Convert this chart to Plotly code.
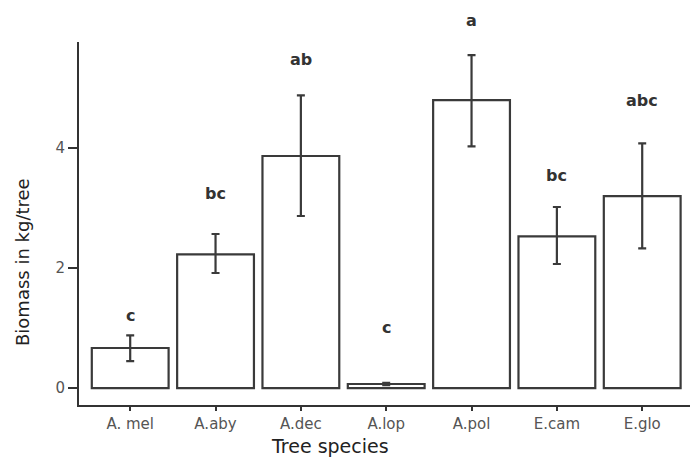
import plotly.graph_objects as go

species = ["A. mel", "A.aby", "A.dec", "A.lop", "A.pol", "E.cam", "E.glo"]
biomass = [0.67, 2.23, 3.87, 0.07, 4.80, 2.53, 3.20]
err_plus = [0.21, 0.34, 1.01, 0.02, 0.75, 0.49, 0.88]
err_minus = [0.22, 0.31, 1.00, 0.02, 0.77, 0.46, 0.87]
letters = ["c", "bc", "ab", "c", "a", "bc", "abc"]
letter_y = [1.22, 3.25, 5.47, 1.02, 6.13, 3.55, 4.80]

FONT = "DejaVu Sans, Liberation Sans, Arial, sans-serif"
W, H = 690, 457
ML, MR, MT, MB = 79, 0, 42, 52
YMIN, YMAX = -0.28, 5.77

fig = go.Figure()
fig.add_trace(go.Bar(
    x=list(range(len(species))), y=biomass, width=0.9,
    marker=dict(color="white", line=dict(color="#3a3a3a", width=2.2)),
    error_y=dict(type="data", symmetric=False, array=err_plus, arrayminus=err_minus,
                 color="#3a3a3a", thickness=2.2, width=4),
    showlegend=False,
))

annotations = []
for i, (lab, ly) in enumerate(zip(letters, letter_y)):
    # letters may sit above the axis range, so place them in y-domain units
    annotations.append(dict(x=i, xref="x", y=(ly - YMIN) / (YMAX - YMIN), yref="y domain",
                            text=lab, showarrow=False, xanchor="center", yanchor="middle",
                            font=dict(family=FONT, size=16, color="#333333", weight="bold")))

plot_h = H - MT - MB
plot_w = W - ML - MR
annotations.append(dict(text="Tree species", x=(330 - ML) / plot_w, xref="paper",
                        y=(H - MB - 446) / plot_h, yref="paper", showarrow=False,
                        xanchor="center", yanchor="middle",
                        font=dict(family=FONT, size=19, color="#222222")))
annotations.append(dict(text="Biomass in kg/tree", x=(22 - ML) / plot_w, xref="paper",
                        y=(H - MB - 262) / plot_h, yref="paper", textangle=-90,
                        xanchor="center", yanchor="middle",
                        showarrow=False, font=dict(family=FONT, size=18, color="#222222")))

fig.update_layout(
    width=W, height=H,
    margin=dict(l=ML, r=MR, t=MT, b=MB, autoexpand=False),
    paper_bgcolor="white", plot_bgcolor="white",
    font=dict(family=FONT),
    xaxis=dict(range=[-0.6, 6.56], tickmode="array",
               tickvals=list(range(len(species))), ticktext=species,
               showgrid=False, zeroline=False, showline=True, linecolor="#333333", linewidth=2,
               ticks="outside", ticklen=4, tickwidth=1.5, tickcolor="#333333",
               tickfont=dict(family=FONT, size=15, color="#555555"), automargin=False),
    yaxis=dict(range=[YMIN, YMAX], tickvals=[0, 2, 4],
               showgrid=False, zeroline=False, showline=True, linecolor="#333333", linewidth=2,
               ticks="outside", ticklen=9, tickwidth=1.5, tickcolor="#333333",
               tickfont=dict(family=FONT, size=15, color="#555555"), automargin=False),
    annotations=annotations,
)

fig.write_html("out.html", config={"displayModeBar": False},
               post_script="document.body.style.margin='0px';")
